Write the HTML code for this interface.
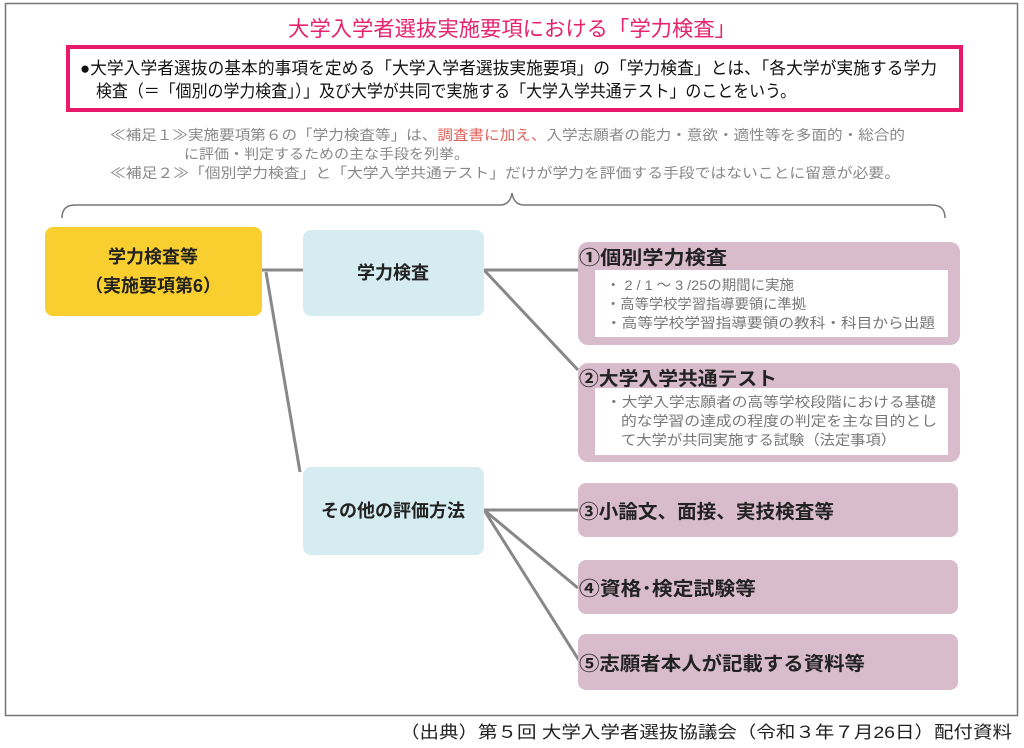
<!DOCTYPE html>
<html><head><meta charset="utf-8"><style>
html,body{margin:0;padding:0;background:#fff;}
svg{display:block;}
text{font-family:"Liberation Sans","Noto Sans CJK JP",sans-serif;}
</style></head><body>
<svg width="1024" height="748" viewBox="0 0 1024 748" xmlns="http://www.w3.org/2000/svg">
<rect x="5.5" y="3.5" width="1012" height="712" fill="#fff" stroke="#777" stroke-width="1.5"/>
<text x="512" y="36" text-anchor="middle" font-size="21" fill="#e6226e" textLength="448" lengthAdjust="spacingAndGlyphs">大学入学者選抜実施要項における「学力検査」</text>
<rect x="68" y="47" width="893" height="63" fill="#fff" stroke="#e8196b" stroke-width="4"/>
<text x="80" y="74" font-size="17" fill="#111" textLength="857" lengthAdjust="spacingAndGlyphs">●大学入学者選抜の基本的事項を定める「大学入学者選抜実施要項」の「学力検査」とは、「各大学が実施する学力</text>
<text x="96" y="97" font-size="17" fill="#111" textLength="700" lengthAdjust="spacingAndGlyphs">検査（＝「個別の学力検査」）」及び大学が共同で実施する「大学入学共通テスト」のことをいう。</text>
<g font-size="14" fill="#888">
<text x="110" y="140" textLength="795" lengthAdjust="spacingAndGlyphs">≪補足１≫実施要項第６の「学力検査等」は、<tspan fill="#e0605a">調査書に加え、</tspan>入学志願者の能力・意欲・適性等を多面的・総合的</text>
<text x="184" y="159" textLength="285" lengthAdjust="spacingAndGlyphs">に評価・判定するための主な手段を列挙。</text>
<text x="110" y="178" textLength="790" lengthAdjust="spacingAndGlyphs">≪補足２≫「個別学力検査」と「大学入学共通テスト」だけが学力を評価する手段ではないことに留意が必要。</text>
</g>
<path d="M62 218 Q62 205 75 205 L500 205 Q510 205 512 193 Q514 205 524 205 L932 205 Q945 205 945 218" fill="none" stroke="#777" stroke-width="1.5"/>
<g stroke="#888" stroke-width="3" fill="none">
<line x1="262" y1="270" x2="303" y2="270"/>
<line x1="266" y1="272" x2="300" y2="472"/>
<line x1="484" y1="270" x2="578" y2="270"/>
<line x1="484" y1="270" x2="578" y2="370"/>
<line x1="484" y1="510" x2="578" y2="510"/>
<line x1="484" y1="510" x2="578" y2="588"/>
<line x1="484" y1="510" x2="580" y2="662"/>
</g>
<rect x="45" y="227" width="217" height="89" rx="8" fill="#f9cf2f"/>
<text x="153" y="263" text-anchor="middle" font-size="18" font-weight="bold" fill="#222">学力検査等</text>
<text x="153" y="292" text-anchor="middle" font-size="18" font-weight="bold" fill="#222">（実施要項第6）</text>
<rect x="303" y="230" width="181" height="86" rx="8" fill="#d5ecf1"/>
<text x="393" y="279" text-anchor="middle" font-size="18" font-weight="bold" fill="#222">学力検査</text>
<rect x="303" y="467" width="181" height="88" rx="8" fill="#d5ecf1"/>
<text x="393" y="517" text-anchor="middle" font-size="18" font-weight="bold" fill="#222">その他の評価方法</text>
<g fill="#d8bccb">
<rect x="578" y="242" width="382" height="103" rx="10"/>
<rect x="578" y="363" width="382" height="99" rx="10"/>
<rect x="578" y="483" width="380" height="54" rx="8"/>
<rect x="578" y="560" width="380" height="54" rx="8"/>
<rect x="578" y="634" width="380" height="56" rx="8"/>
</g>
<rect x="595" y="270" width="353" height="67" fill="#fff"/>
<rect x="595" y="388" width="353" height="67" fill="#fff"/>
<g font-size="19" font-weight="bold" fill="#222">
<text x="579" y="264" textLength="148" lengthAdjust="spacingAndGlyphs">①個別学力検査</text>
<text x="579" y="385" textLength="198" lengthAdjust="spacingAndGlyphs">②大学入学共通テスト</text>
<text x="579" y="518" textLength="255" lengthAdjust="spacingAndGlyphs">③小論文、面接、実技検査等</text>
<text x="579" y="595" textLength="177" lengthAdjust="spacingAndGlyphs">④資格･検定試験等</text>
<text x="579" y="670" textLength="286" lengthAdjust="spacingAndGlyphs">⑤志願者本人が記載する資料等</text>
</g>
<g font-size="14" fill="#777">
<text x="606" y="290" textLength="188" lengthAdjust="spacingAndGlyphs">・ 2 / 1 ～ 3 /25の期間に実施</text>
<text x="606" y="309" textLength="200" lengthAdjust="spacingAndGlyphs">・高等学校学習指導要領に準拠</text>
<text x="606" y="328" textLength="329" lengthAdjust="spacingAndGlyphs">・高等学校学習指導要領の教科・科目から出題</text>
<text x="606" y="407" textLength="330" lengthAdjust="spacingAndGlyphs">・大学入学志願者の高等学校段階における基礎</text>
<text x="621" y="426" textLength="316" lengthAdjust="spacingAndGlyphs">的な学習の達成の程度の判定を主な目的とし</text>
<text x="621" y="445" textLength="275" lengthAdjust="spacingAndGlyphs">て大学が共同実施する試験（法定事項）</text>
</g>
<text x="1012" y="738" text-anchor="end" font-size="17" fill="#222" textLength="612" lengthAdjust="spacingAndGlyphs">（出典）第５回 大学入学者選抜協議会（令和３年７月26日）配付資料</text>
</svg>
</body></html>
